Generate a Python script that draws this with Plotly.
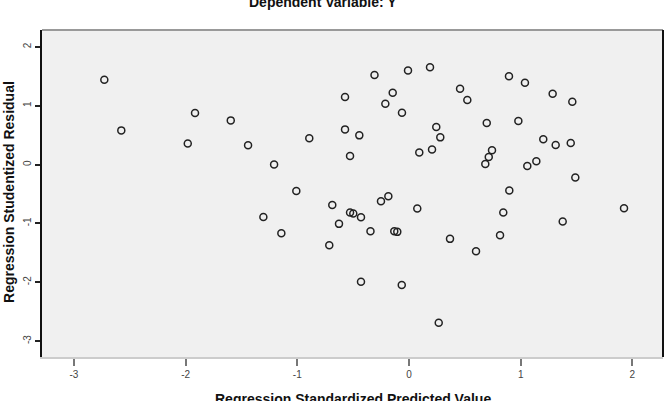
import plotly.graph_objects as go

# Regression Standardized Predicted Value
pred = [-2.728, -2.576, -1.916, -1.596, -1.981, -1.441, -1.208, -1.009, -1.304, -1.143,
        -0.893, -0.573, -0.573, -0.445, -0.528, -0.309, -0.687, -0.528, -0.499, -0.430,
        -0.627, -0.345, -0.714, -0.430, -0.251, -0.009, 0.188, -0.146, -0.212, -0.063,
        0.457, 0.522, 0.895, 1.038, 1.286, 1.462, 0.244, 0.280, 0.696, 0.979,
        0.092, 0.206, 0.743, 0.714, 0.683, 1.059, 1.140, 1.202, 1.313, 1.448,
        1.489, 0.898, 0.844, 1.376, 1.925, -0.185, 0.074, -0.132, -0.105, 0.367,
        0.815, 0.600, -0.065, 0.266]
# Regression Studentized Residual
resid = [1.443, 0.582, 0.876, 0.752, 0.357, 0.328, 0.000, -0.448, -0.890, -1.166,
         0.447, 1.148, 0.599, 0.497, 0.146, 1.525, -0.686, -0.815, -0.832, -0.895,
         -1.008, -1.132, -1.370, -1.993, -0.623, 1.601, 1.657, 1.222, 1.036, 0.883,
         1.290, 1.097, 1.504, 1.392, 1.205, 1.070, 0.638, 0.463, 0.706, 0.740,
         0.204, 0.255, 0.243, 0.129, 0.010, -0.024, 0.056, 0.430, 0.333, 0.367,
         -0.221, -0.441, -0.815, -0.968, -0.742, -0.538, -0.747, -1.132, -1.144, -1.263,
         -1.200, -1.472, -2.049, -2.689]

x_ticks = [-3, -2, -1, 0, 1, 2]
y_ticks = [-3, -2, -1, 0, 1, 2]

title_text = "Dependent Variable: Y"
x_title = "Regression Standardized Predicted Value"
y_title = "Regression Studentized Residual"

fig = go.Figure()
fig.add_trace(go.Scatter(
    x=pred, y=resid, mode="markers",
    marker=dict(symbol="circle-open", size=7, color="#222222", line=dict(width=1.5)),
    showlegend=False, hoverinfo="x+y",
))

tickfont = dict(family="Arial, Liberation Sans", size=10, color="#444444")
titlefont = dict(family="Arial, Liberation Sans", size=14, color="#111111")

fig.update_layout(
    width=670, height=401, autosize=False,
    margin=dict(l=42, r=7, t=30, b=44),
    paper_bgcolor="white", plot_bgcolor="#F0F0F0",
    xaxis=dict(range=[-3.286, 2.274], tickvals=x_ticks, ticktext=[str(v) for v in x_ticks],
               ticks="outside", ticklen=7, tickwidth=1.5, tickcolor="#777777",
               showgrid=False, zeroline=False, showline=True, linecolor="#CCCCCC", linewidth=1.5,
               tickfont=tickfont),
    yaxis=dict(range=[-3.272, 2.289], tickvals=y_ticks, ticktext=[str(v) for v in y_ticks],
               ticks="outside", ticklen=5, tickwidth=1.5, tickcolor="#222222",
               showgrid=False, zeroline=False, showline=True, linecolor="#111111", linewidth=2,
               tickangle=-90, tickfont=tickfont),
    shapes=[
        dict(type="line", xref="paper", yref="paper", x0=0, x1=1, y0=1, y1=1,
             line=dict(color="#999999", width=2)),
        dict(type="line", xref="paper", yref="paper", x0=1, x1=1, y0=0, y1=1,
             line=dict(color="#111111", width=2)),
    ],
    annotations=[
        dict(text="<b>%s</b>" % title_text, xref="paper", yref="paper", x=0.4525, y=1.0856,
             xanchor="center", yanchor="middle", showarrow=False, font=titlefont),
        dict(text="<b>%s</b>" % x_title, xref="paper", yref="paper", x=0.5, y=-0.128,
             xanchor="center", yanchor="middle", showarrow=False, font=titlefont),
        dict(text="<b>%s</b>" % y_title, xref="paper", yref="paper", x=-0.0531, y=0.505,
             xanchor="center", yanchor="middle", showarrow=False, textangle=-90, font=titlefont),
    ],
)

fig.write_html("out.html")
